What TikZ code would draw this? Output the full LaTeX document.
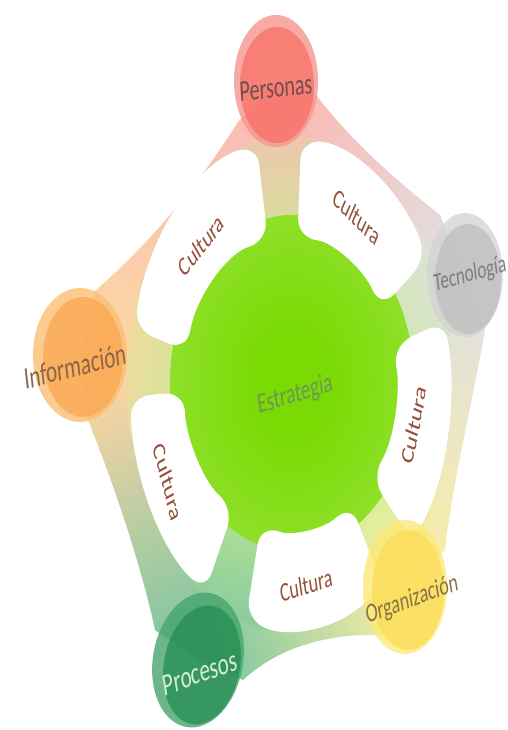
\documentclass[tikz,border=0pt]{standalone}
\usepackage{fontspec}
\setmainfont{Carlito}
% circle colours
\definecolor{pA}{RGB}{246,150,142}
\definecolor{pB}{RGB}{248,112,102}
\definecolor{tA}{RGB}{212,212,212}
\definecolor{tB}{RGB}{190,190,190}
\definecolor{iA}{RGB}{250,190,115}
\definecolor{iB}{RGB}{250,168,80}
\definecolor{rA}{RGB}{70,165,110}
\definecolor{rB}{RGB}{38,140,82}
\definecolor{oA}{RGB}{252,232,120}
\definecolor{oB}{RGB}{252,220,88}
% band colours
\definecolor{bP}{RGB}{250,188,182}
\definecolor{bT}{RGB}{224,224,224}
\definecolor{bI}{RGB}{252,212,165}
\definecolor{bR}{RGB}{128,198,160}
\definecolor{bO}{RGB}{248,238,165}
\definecolor{sg}{RGB}{198,236,146}
% green disk
\definecolor{gC}{RGB}{122,218,4}
\definecolor{gE}{RGB}{160,230,74}
% text colours
\definecolor{cuT}{RGB}{150,80,60}
\definecolor{peT}{RGB}{112,80,75}
\definecolor{teT}{RGB}{125,125,125}
\definecolor{inT}{RGB}{140,100,70}
\definecolor{orT}{RGB}{135,115,70}
\definecolor{prT}{RGB}{215,235,215}
\definecolor{esT}{RGB}{110,150,90}
\pgfdeclareradialshading{greenball}{\pgfpoint{0bp}{0bp}}{color(0bp)=(gC); color(8bp)=(gC); color(40bp)=(gE); color(50bp)=(sg)}
\newcommand\lab[7]{%
  \begin{scope}[shift={(#1,#2)}, yscale=1.5, rotate=#3]
    \node[transform shape, inner sep=0pt, text=#5, font=\fontsize{#4}{#4}\selectfont] (#6) at (0,0) {#7};
  \end{scope}}
\tikzset{
  whitepiece/.style={fill=white, rounded corners=20pt},
  outerdisc/.style={opacity=0.8},
  innerdisc/.style={opacity=0.75}
}
\begin{document}
\begin{tikzpicture}[x=1pt,y=1pt]
\useasboundingbox (-290,-346) rectangle (218,384);
% ---- outer web bands ----
\shade[bottom color=bP, top color=bT, shading angle=-136]
  (-14,303) -- (26,289) .. controls (63,241) and (107,203) .. (150,169) -- (175,109)
  -- (23:140 and 215) -- (94:140 and 215) -- cycle;
\shade[bottom color=bT, top color=bO, shading angle=169]
  (175,109) -- (195,54) .. controls (182,-20) and (163,-95) .. (155,-166) -- (115,-203)
  -- (-47:140 and 215) -- (23:140 and 215) -- cycle;
\shade[bottom color=bO, top color=bR, shading angle=109]
  (115,-203) -- (95,-251) .. controls (40,-249) and (-10,-262) .. (-47,-296) -- (-92,-276)
  -- (246:140 and 215) -- (313:140 and 215) -- cycle;
\shade[bottom color=bR, top color=bI, shading angle=21]
  (-92,-276) -- (-135,-246) .. controls (-150,-176) and (-178,-96) .. (-202,-36) -- (-210,29)
  -- (175:140 and 215) -- (246:140 and 215) -- cycle;
\shade[bottom color=bI, top color=bP, shading angle=-36]
  (-210,29) -- (-195,93) .. controls (-140,141) and (-93,197) .. (-52,262) -- (-14,303)
  -- (94:140 and 215) -- (175:140 and 215) -- cycle;
% ---- spokes ----
\begin{scope}
\clip (0,0) ellipse [x radius=163, y radius=248];
\shade[bottom color=sg, top color=bP, middle color=sg!45!bP, shading angle=2.6]
  (66:90 and 125) -- (78:170 and 260) -- (-14,303) -- (110:170 and 260) -- (122:90 and 125) -- cycle;
\shade[bottom color=sg, top color=bT, middle color=sg!45!bT, shading angle=-58]
  (-5:90 and 125) -- (7:170 and 260) -- (175,109) -- (39:170 and 260) -- (51:90 and 125) -- cycle;
\shade[bottom color=sg, top color=bO, middle color=sg!45!bO, shading angle=-150]
  (-75:90 and 125) -- (-63:170 and 260) -- (115,-203) -- (-31:170 and 260) -- (-19:90 and 125) -- cycle;
\shade[bottom color=sg, top color=bR, middle color=sg!45!bR, shading angle=162]
  (218:90 and 125) -- (230:170 and 260) -- (-92,-276) -- (262:170 and 260) -- (274:90 and 125) -- cycle;
\shade[bottom color=sg, top color=bI, middle color=sg!45!bI, shading angle=82]
  (147:90 and 125) -- (159:170 and 260) -- (-210,29) -- (191:170 and 260) -- (203:90 and 125) -- cycle;
% ---- green disk (soft edge, shows in the gaps) ----
\shade[shading=greenball] (2,1) ellipse [x radius=122, y radius=168];
\end{scope}
% ---- white pieces ----
\fill[whitepiece] (31:160 and 245) arc[start angle=31, end angle=86, x radius=160, y radius=245]
  -- (86:106 and 146) arc[start angle=86, end angle=31, x radius=106, y radius=146] -- cycle;
\fill[whitepiece] (-40:160 and 245) arc[start angle=-40, end angle=15, x radius=160, y radius=245]
  -- (15:106 and 146) arc[start angle=15, end angle=-40, x radius=106, y radius=146] -- cycle;
\fill[whitepiece] (-106:160 and 245) arc[start angle=-106, end angle=-55, x radius=160, y radius=245]
  -- (-55:106 and 146) arc[start angle=-55, end angle=-106, x radius=106, y radius=146] -- cycle;
\fill[whitepiece] (183:160 and 245) arc[start angle=183, end angle=238, x radius=160, y radius=245]
  -- (238:106 and 146) arc[start angle=238, end angle=183, x radius=106, y radius=146] -- cycle;
\fill[whitepiece] (102:160 and 245) arc[start angle=102, end angle=167, x radius=160, y radius=245]
  -- (167:106 and 146) arc[start angle=167, end angle=102, x radius=106, y radius=146] -- cycle;
% ---- satellite discs ----
\fill[pA, outerdisc] (-14,303) ellipse [x radius=42, y radius=66];
\fill[pB, innerdisc] (-13,299) ellipse [x radius=37, y radius=58];
\fill[tA, outerdisc] (175,109) ellipse [x radius=38, y radius=62];
\fill[tB, innerdisc] (178,105) ellipse [x radius=33, y radius=55];
\fill[iA, outerdisc] (-210,29) ellipse [x radius=47, y radius=67];
\fill[iB, innerdisc] (-207,27) ellipse [x radius=40, y radius=60];
\fill[rA, outerdisc, rotate around={-10:(-92,-276)}] (-92,-276) ellipse [x radius=45, y radius=68];
\fill[rB, innerdisc, rotate around={-10:(-88,-281)}] (-88,-281) ellipse [x radius=38, y radius=60];
\fill[oA, outerdisc] (115,-203) ellipse [x radius=42, y radius=67];
\fill[oB, innerdisc] (118,-206) ellipse [x radius=36, y radius=60];
% ---- labels ----
\lab{-14}{296}{4.3}{20}{peT}{personas}{Personas}
\lab{180}{109}{10.3}{17}{teT}{tecnologia}{Tecnología}
\lab{-215}{18}{9.7}{21}{inT}{informacion}{Información}
\lab{-90}{-289}{13.6}{21}{prT}{procesos}{Procesos}
\lab{122}{-216}{14}{18}{orT}{organizacion}{Organización}
\lab{5}{-11}{11.8}{19}{esT}{estrategia}{Estrategia}
\lab{-89}{139}{41}{18}{cuT}{cultura1}{Cultura}
\lab{67}{167}{-33.7}{18}{cuT}{cultura2}{Cultura}
\lab{124}{-41}{74.5}{18}{cuT}{cultura3}{Cultura}
\lab{16}{-201}{12}{18}{cuT}{cultura4}{Cultura}
\lab{-122}{-98}{-69.5}{18}{cuT}{cultura5}{Cultura}
\end{tikzpicture}
\end{document}
